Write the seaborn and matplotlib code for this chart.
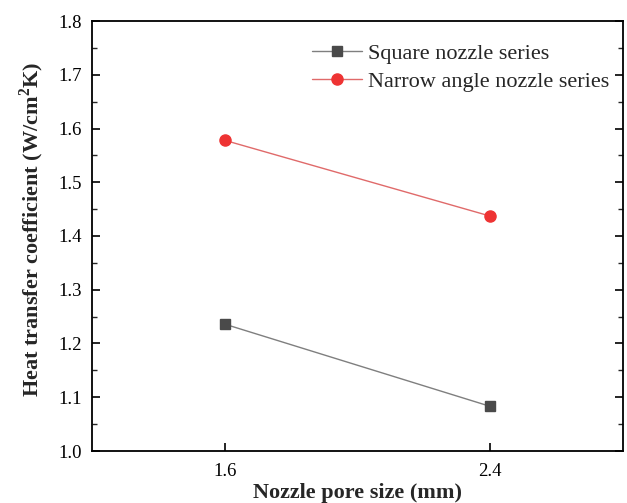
import matplotlib
matplotlib.use("Agg")
import matplotlib.pyplot as plt
import seaborn as sns
import pandas as pd
from matplotlib.ticker import MultipleLocator, FixedLocator
from matplotlib.lines import Line2D

pore_size = [1.6, 2.4]
square_series = [1.236, 1.083]
narrow_series = [1.578, 1.437]
series_names = ["Square nozzle series", "Narrow angle nozzle series"]

df = pd.DataFrame({
    "x": pore_size * 2,
    "y": square_series + narrow_series,
    "series": [series_names[0]] * 2 + [series_names[1]] * 2,
})

sns.set_style("ticks")
plt.rcParams["font.family"] = ["Liberation Serif", "DejaVu Serif"]
plt.rcParams["mathtext.fontset"] = "custom"
plt.rcParams["mathtext.rm"] = "Liberation Serif"
plt.rcParams["mathtext.bf"] = "Liberation Serif:bold"

fig = plt.figure(figsize=(6.27, 5.03), dpi=100)
ax = fig.add_axes([92 / 627, 1 - 451 / 503, (623 - 92) / 627, (451 - 21) / 503])

palette = {series_names[0]: "#7f7f7f", series_names[1]: "#e06a6a"}
sns.lineplot(data=df, x="x", y="y", hue="series", palette=palette, ax=ax,
             linewidth=1.0, legend=False)
ax.plot(pore_size, square_series, linestyle="none", marker="s", markersize=7,
        color="#4a4a4a", markeredgecolor="#4a4a4a")
ax.plot(pore_size, narrow_series, linestyle="none", marker="o", markersize=8,
        color="#ee3333", markeredgecolor="#ee3333")

handles = [
    Line2D([], [], color="#7f7f7f", lw=1.0, marker="s", markersize=7,
           markerfacecolor="#4a4a4a", markeredgecolor="#4a4a4a"),
    Line2D([], [], color="#e06a6a", lw=1.0, marker="o", markersize=8,
           markerfacecolor="#ee3333", markeredgecolor="#ee3333"),
]
ax.legend(handles, series_names, loc="upper left",
          bbox_to_anchor=(312 / 627, 1 - 43 / 503), bbox_transform=fig.transFigure,
          frameon=False, fontsize=16, handlelength=2.25, handletextpad=0.28,
          labelspacing=0.35, borderaxespad=0, borderpad=0)

ax.set_xlim(1.2, 2.8)
ax.set_ylim(1.0, 1.8)
ax.xaxis.set_major_locator(FixedLocator([1.6, 2.4]))
ax.yaxis.set_major_locator(MultipleLocator(0.1))
ax.yaxis.set_minor_locator(MultipleLocator(0.05))
ax.set_yticklabels([f"{v:.1f}" for v in ax.get_yticks()])
ax.set_xticklabels(["1.6", "2.4"])

for s in ax.spines.values():
    s.set_visible(True)
    s.set_linewidth(1.3)
    s.set_color("black")

ax.tick_params(axis="both", which="major", direction="in", length=6, width=1.2,
               labelsize=13.5, right=True, top=False, colors="black", pad=7)
ax.tick_params(axis="x", which="major", pad=9)
ax.tick_params(axis="y", which="minor", direction="in", length=3.5, width=1.0,
               right=True)
ax.tick_params(axis="x", which="minor", bottom=False, top=False)

ax.set_xlabel("Nozzle pore size (mm)", fontsize=16, fontweight="bold", labelpad=1.5)
ax.set_ylabel(r"Heat transfer coefficient (W/cm$^{\mathbf{2}}$K)", fontsize=16,
              fontweight="bold")
ax.yaxis.set_label_coords((46 - 92) / 531, (451 - 229) / 430)

fig.savefig("out.png", dpi=100)
